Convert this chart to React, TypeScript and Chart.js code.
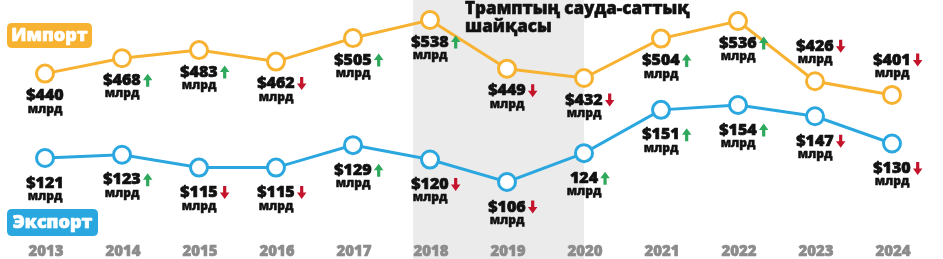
import React, { useEffect, useRef } from "react";
import { Chart, registerables } from "chart.js";

Chart.register(...registerables);

const years = ["2013", "2014", "2015", "2016", "2017", "2018", "2019", "2020", "2021", "2022", "2023", "2024"];
const importValues = [440, 468, 483, 462, 505, 538, 449, 432, 504, 536, 426, 401];
const exportValues = [121, 123, 115, 115, 129, 120, 106, 124, 151, 154, 147, 130];
const importLabels = ["$440", "$468", "$483", "$462", "$505", "$538", "$449", "$432", "$504", "$536", "$426", "$401"];
const exportLabels = ["$121", "$123", "$115", "$115", "$129", "$120", "$106", "124", "$151", "$154", "$147", "$130"];
// 1 = up, -1 = down, 0 = none
const importTrend = [0, 1, 1, -1, 1, 1, -1, -1, 1, 1, -1, -1];
const exportTrend = [0, 1, -1, -1, 1, -1, -1, 1, 1, 1, -1, -1];
// label placement: 1 = below point, -1 = above point
const importPlacement = [1, 1, 1, 1, 1, 1, 1, 1, 1, 1, -1, -1];
const exportPlacement = [1, 1, 1, 1, 1, 1, 1, 1, 1, 1, 1, 1];
const unitText = "млрд";
const importName = "Импорт";
const exportName = "Экспорт";
const shadeTitle = ["Трамптың сауда-саттық", "шайқасы"];
const shadeFrom = 5; // 2018
const shadeTo = 7; // 2020

const ORANGE = "#F7B232";
const BLUE = "#2BA7E0";
const GREEN = "#2EA85B";
const RED = "#C4142B";
const FONT = "'Open Sans', 'DejaVu Sans', sans-serif";

function heavyText(ctx: CanvasRenderingContext2D, text: string, x: number, y: number, stroke: number) {
  ctx.lineWidth = stroke;
  ctx.lineJoin = "round";
  ctx.strokeStyle = ctx.fillStyle as string;
  ctx.strokeText(text, x, y);
  ctx.fillText(text, x, y);
}

function drawArrow(ctx: CanvasRenderingContext2D, x: number, y: number, dir: number) {
  const color = dir > 0 ? GREEN : RED;
  const h = 13;
  const headH = 6.5;
  const headW = 9.5;
  const shaft = 3.2;
  ctx.save();
  ctx.fillStyle = color;
  ctx.beginPath();
  if (dir > 0) {
    const top = y - h / 2;
    ctx.moveTo(x, top);
    ctx.lineTo(x + headW / 2, top + headH);
    ctx.lineTo(x + shaft / 2, top + headH);
    ctx.lineTo(x + shaft / 2, top + h);
    ctx.lineTo(x - shaft / 2, top + h);
    ctx.lineTo(x - shaft / 2, top + headH);
    ctx.lineTo(x - headW / 2, top + headH);
  } else {
    const bot = y + h / 2;
    ctx.moveTo(x, bot);
    ctx.lineTo(x + headW / 2, bot - headH);
    ctx.lineTo(x + shaft / 2, bot - headH);
    ctx.lineTo(x + shaft / 2, bot - h);
    ctx.lineTo(x - shaft / 2, bot - h);
    ctx.lineTo(x - shaft / 2, bot - headH);
    ctx.lineTo(x - headW / 2, bot - headH);
  }
  ctx.closePath();
  ctx.fill();
  ctx.restore();
}

function roundRect(ctx: CanvasRenderingContext2D, x: number, y: number, w: number, h: number, r: number) {
  ctx.beginPath();
  ctx.moveTo(x + r, y);
  ctx.lineTo(x + w - r, y);
  ctx.quadraticCurveTo(x + w, y, x + w, y + r);
  ctx.lineTo(x + w, y + h - r);
  ctx.quadraticCurveTo(x + w, y + h, x + w - r, y + h);
  ctx.lineTo(x + r, y + h);
  ctx.quadraticCurveTo(x, y + h, x, y + h - r);
  ctx.lineTo(x, y + r);
  ctx.quadraticCurveTo(x, y, x + r, y);
  ctx.closePath();
}

const decorPlugin = {
  id: "decor",
  beforeDatasetsDraw(chart: any) {
    const ctx: CanvasRenderingContext2D = chart.ctx;
    const xs = chart.scales.x;
    const step = xs.getPixelForValue(1) - xs.getPixelForValue(0);
    const left = xs.getPixelForValue(shadeFrom) - step * 0.22;
    const right = xs.getPixelForValue(shadeTo);
    ctx.save();
    ctx.fillStyle = "#EBEBEB";
    ctx.fillRect(left, 0, right - left, chart.height);
    // title
    ctx.fillStyle = "#111111";
    ctx.font = `800 17px ${FONT}`;
    ctx.textAlign = "left";
    ctx.textBaseline = "middle";
    heavyText(ctx, shadeTitle[0], left + 52, 9, 0.6);
    heavyText(ctx, shadeTitle[1], left + 52, 27, 0.6);
    // year labels
    ctx.fillStyle = "#8C8C8C";
    ctx.font = `800 15px ${FONT}`;
    ctx.textAlign = "center";
    years.forEach((y, i) => {
      heavyText(ctx, y, xs.getPixelForValue(i) + 1, 252, 0.6);
    });
    ctx.restore();
  },
  afterDatasetsDraw(chart: any) {
    const ctx: CanvasRenderingContext2D = chart.ctx;
    const drawSet = (dsIndex: number, labels: string[], trend: number[], place: number[], belowOff: number) => {
      const meta = chart.getDatasetMeta(dsIndex);
      meta.data.forEach((pt: any, i: number) => {
        const x = pt.x;
        const y = pt.y;
        const numY = place[i] > 0 ? y + belowOff : y - 35;
        const unitY = numY + 13.5;
        ctx.save();
        ctx.fillStyle = "#111111";
        ctx.textAlign = "center";
        ctx.textBaseline = "middle";
        ctx.font = `800 16px ${FONT}`;
        heavyText(ctx, labels[i], x, numY, 0.7);
        const w = ctx.measureText(labels[i]).width;
        ctx.font = `800 12px ${FONT}`;
        heavyText(ctx, unitText, x, unitY, 0.5);
        ctx.restore();
        if (trend[i] !== 0) drawArrow(ctx, x + w / 2 + 7, numY, trend[i]);
      });
    };
    drawSet(0, importLabels, importTrend, importPlacement, 22);
    drawSet(1, exportLabels, exportTrend, exportPlacement, 25);

    // legend boxes
    ctx.save();
    ctx.fillStyle = ORANGE;
    roundRect(ctx, 7, 23, 85, 25, 5);
    ctx.fill();
    ctx.fillStyle = BLUE;
    roundRect(ctx, 7, 209, 91, 27, 5);
    ctx.fill();
    ctx.fillStyle = "#FFFFFF";
    ctx.font = `800 18px ${FONT}`;
    ctx.textAlign = "center";
    ctx.textBaseline = "middle";
    heavyText(ctx, importName, 7 + 85 / 2, 35.5, 0.7);
    heavyText(ctx, exportName, 7 + 91 / 2, 222.5, 0.7);
    ctx.restore();
  },
};

export default function App() {
  const ref = useRef<HTMLCanvasElement>(null);
  useEffect(() => {
    if (!ref.current) return;
    const chart = new Chart(ref.current, {
      type: "line",
      data: {
        labels: years,
        datasets: [
          {
            label: importName,
            data: importValues,
            yAxisID: "yImp",
            borderColor: ORANGE,
            borderWidth: 3,
            pointRadius: 8.5,
            pointBorderWidth: 3,
            pointBackgroundColor: "#FFFFFF",
            pointBorderColor: ORANGE,
            tension: 0,
            clip: false as any,
          },
          {
            label: exportName,
            data: exportValues,
            yAxisID: "yExp",
            borderColor: BLUE,
            borderWidth: 3,
            pointRadius: 8.5,
            pointBorderWidth: 3,
            pointBackgroundColor: "#FFFFFF",
            pointBorderColor: BLUE,
            tension: 0,
            clip: false as any,
          },
        ],
      },
      options: {
        animation: false,
        responsive: false,
        devicePixelRatio: 1,
        layout: { autoPadding: false, padding: { left: 45, right: 51, top: 0, bottom: 0 } },
        plugins: { legend: { display: false }, tooltip: { enabled: false } },
        events: [],
        scales: {
          x: { type: "category", display: false, offset: false },
          yImp: { display: false, min: 101, max: 574.6 },
          yExp: { display: false, min: 58, max: 219.5 },
        },
      },
      plugins: [decorPlugin],
    });
    return () => chart.destroy();
  }, []);
  return (
    <div style={{ position: "absolute", left: 0, top: 0, width: 943, height: 259, background: "#fff" }}>
      <canvas ref={ref} width={943} height={259} style={{ display: "block" }} />
    </div>
  );
}
